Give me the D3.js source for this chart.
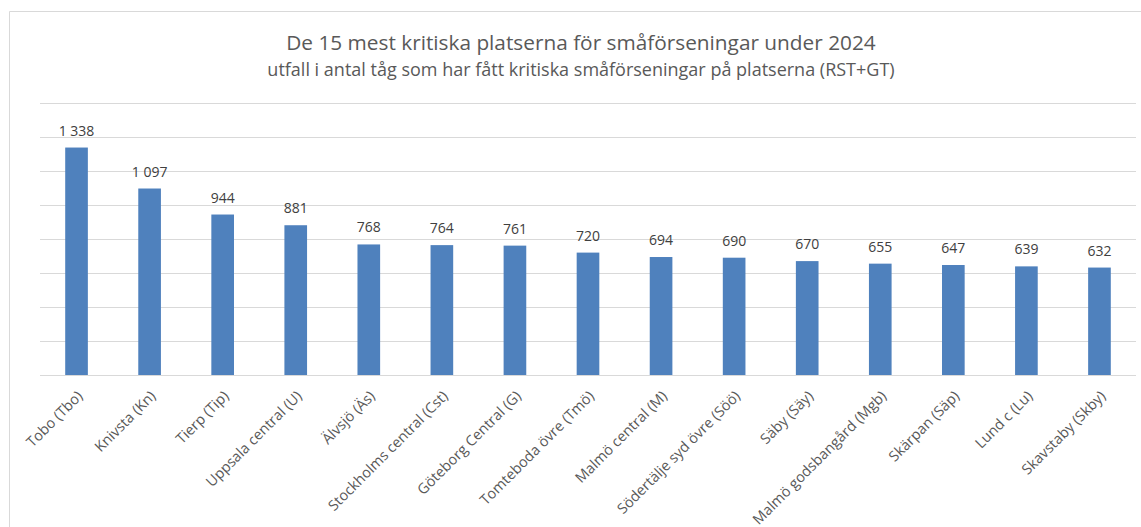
<!DOCTYPE html>
<html>
<head>
<meta charset="utf-8">
<script src="https://cdn.jsdelivr.net/npm/d3@7"></script>
<style>
  html, body { margin: 0; padding: 0; background: #fff; }
  svg { display: block; font-family: "Open Sans", "Noto Sans", sans-serif; }
</style>
</head>
<body>
<svg id="chart" width="1141" height="527"></svg>
<script>
// Platser med flest kritiska småförseningar 2024
const categories = [
  "Tobo (Tbo)", "Knivsta (Kn)", "Tierp (Tip)", "Uppsala central (U)", "Älvsjö (Äs)",
  "Stockholms central (Cst)", "Göteborg Central (G)", "Tomteboda övre (Tmö)",
  "Malmö central (M)", "Södertälje syd övre (Söö)", "Säby (Säy)",
  "Malmö godsbangård (Mgb)", "Skärpan (Säp)", "Lund c (Lu)", "Skavstaby (Skby)"
];
const values = [1338, 1097, 944, 881, 768, 764, 761, 720, 694, 690, 670, 655, 647, 639, 632];
const gridTicks = [0, 200, 400, 600, 800, 1000, 1200, 1400, 1600];

const svg = d3.select("#chart");
const plot = { left: 40, right: 1136, top: 103, bottom: 375 };

// chart frame
svg.append("path")
  .attr("d", "M9.5,527 V11.5 H1141")
  .attr("fill", "none").attr("stroke", "#d9d9d9").attr("stroke-width", 1);

const x = d3.scaleBand().domain(categories).range([plot.left, plot.right]).paddingInner(0.69).paddingOuter(0.345);
const y = d3.scaleLinear().domain([0, 1600]).range([plot.bottom, plot.top]);

// horizontal gridlines
const yAxis = d3.axisLeft(y).tickValues(gridTicks).tickSize(-(plot.right - plot.left)).tickFormat("");
const gy = svg.append("g").attr("transform", `translate(${plot.left},0)`).call(yAxis);
gy.select(".domain").remove();
gy.selectAll(".tick line").attr("stroke", "#d9d9d9").attr("stroke-width", 1.3)
  .attr("shape-rendering", "crispEdges");

// bars
svg.append("g").selectAll("rect").data(values).join("rect")
  .attr("x", (d, i) => x(categories[i]))
  .attr("y", d => y(d))
  .attr("width", x.bandwidth())
  .attr("height", d => y(0) - y(d))
  .attr("fill", "#4f81bd");

// value labels, thousands separated by a space
svg.append("g").selectAll("text").data(values).join("text")
  .attr("x", (d, i) => x(categories[i]) + x.bandwidth() / 2)
  .attr("y", d => y(d) - 12)
  .attr("text-anchor", "middle")
  .attr("font-size", 14)
  .attr("fill", "#404040")
  .text(d => d3.format(",")(d).replace(/,/g, " "));

// category labels (rotated)
const xAxis = d3.axisBottom(x).tickSize(0).tickPadding(0);
const gx = svg.append("g").attr("transform", `translate(0,${plot.bottom})`).call(xAxis);
gx.select(".domain").remove();
gx.selectAll(".tick text")
  .attr("font-family", "'Open Sans', sans-serif")
  .attr("font-size", 14.5)
  .attr("fill", "#595959")
  .attr("text-anchor", "end")
  .attr("dy", 0)
  .attr("transform", "translate(7,22) rotate(-45)");

// titles
svg.append("text").attr("x", 581).attr("y", 50).attr("text-anchor", "middle")
  .attr("font-size", 20.8).attr("fill", "#595959")
  .text("De 15 mest kritiska platserna för småförseningar under 2024");
svg.append("text").attr("x", 581).attr("y", 76).attr("text-anchor", "middle")
  .attr("font-size", 18).attr("fill", "#595959")
  .text("utfall i antal tåg som har fått kritiska småförseningar på platserna (RST+GT)");
</script>
</body>
</html>
